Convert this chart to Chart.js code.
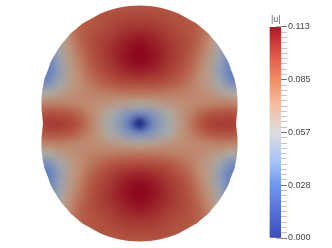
<!DOCTYPE html>
<html>
<head>
<meta charset="utf-8">
<style>
  html, body { margin: 0; padding: 0; background: #fff; }
  canvas { display: block; }
</style>
<script src="https://cdn.jsdelivr.net/npm/chart.js@4"></script>
</head>
<body>
<canvas id="chart" width="332" height="248"></canvas>
<script>
// field values, in thousandths of |u|
const gridX = [-100,-90,-80,-70,-60,-50,-40,-30,-20,-10,0,10,20,30,40,50,60,70,80,90,100];
const gridY = [-120,-110,-100,-90,-80,-70,-60,-50,-40,-30,-20,-10,0,10,20,30,40,50,60,70,80,90,100,110,120];
const fieldRows = [
  [40,50,62,72,80,82,83,84,85,86,86,86,85,84,83,82,80,72,62,50,40],
  [40,50,62,74,82,85,87,88,89,90,90,90,89,88,87,85,82,74,62,50,40],
  [38,48,62,75,83,86,88,90,93,95,95,95,93,90,88,86,83,75,62,48,38],
  [35,45,58,73,82,87,90,93,98,101,103,101,98,93,90,87,82,73,58,45,35],
  [30,40,54,70,80,88,93,97,102,107,110,107,102,97,93,88,80,70,54,40,30],
  [27,33,50,67,77,86,92,98,105,110,113,110,105,98,92,86,77,67,50,33,27],
  [26,31,46,64,74,84,91,96,103,108,111,108,103,96,91,84,74,64,46,31,26],
  [26,30,44,63,71,80,87,92,97,100,102,100,97,92,87,80,71,63,44,30,26],
  [34,38,52,63,70,76,81,85,88,89,90,89,88,85,81,76,70,63,52,38,34],
  [55,58,63,68,71,73,74,75,76,77,77,77,76,75,74,73,71,68,63,58,55],
  [72,74,74,73,72,71,69,67,64,62,60,62,64,67,69,71,72,73,74,74,72],
  [86,88,88,86,80,73,66,57,47,38,35,38,47,57,66,73,80,86,88,88,86],
  [93,95,95,92,86,75,64,54,42,25,0,25,42,54,64,75,86,92,95,95,93],
  [86,88,88,86,80,73,66,57,47,38,35,38,47,57,66,73,80,86,88,88,86],
  [72,74,74,73,72,71,69,67,64,62,60,62,64,67,69,71,72,73,74,74,72],
  [55,58,63,68,71,73,74,75,76,77,77,77,76,75,74,73,71,68,63,58,55],
  [34,38,52,63,70,76,81,85,88,89,90,89,88,85,81,76,70,63,52,38,34],
  [26,30,44,63,71,80,87,92,97,100,102,100,97,92,87,80,71,63,44,30,26],
  [26,31,46,64,74,84,91,96,103,108,111,108,103,96,91,84,74,64,46,31,26],
  [27,33,50,67,77,86,92,98,105,110,113,110,105,98,92,86,77,67,50,33,27],
  [30,40,54,70,80,88,93,97,102,107,110,107,102,97,93,88,80,70,54,40,30],
  [35,45,58,73,82,87,90,93,98,101,103,101,98,93,90,87,82,73,58,45,35],
  [38,48,62,75,83,86,88,90,93,95,95,95,93,90,88,86,83,75,62,48,38],
  [40,50,62,74,82,85,87,88,89,90,90,90,89,88,87,85,82,74,62,50,40],
  [40,50,62,72,80,82,83,84,85,86,86,86,85,84,83,82,80,72,62,50,40]
];

// outline of the domain: half width at each height
const outlineY = [-118,-117.5,-117,-116,-115,-113,-110,-105,-100,-95,-90,-85,-80,-75,-70,-65,-60,-55,-50,-45,-40,-35,-30,-25,-20,-15,-10,-5,0,5,10,15,20,25,30,35,40,45,50,55,60,65,70,75,80,85,90,95,100,105,110,113,115,116,117,117.5,118];
const outlineHalf = [0,10,14,20,24,31,39,48,57,63,69,73,77.5,81,84,87,89.5,91,93,95,96,97,97.5,98,98,98,97.5,97,96.5,97,97.5,98,98,98,97.5,97,96,95,93,91,89.5,87,84,81,77.5,73,69,63,57,48,39,31,24,20,14,10,0];

// colour bar
const barMax = 0.113;
const barLabels = ["0.000", "0.028", "0.057", "0.085", "0.113"];
const majorTicks = [0, 0.02825, 0.0565, 0.08475, 0.113];
const barStops = [0, 0.25, 0.36, 0.5, 0.63, 0.75, 0.88, 1];
const barColors = ["#3b4cc0", "#6e96f0", "#a5c3fa", "#dddddd", "#f5bea0", "#f58c64", "#dc5041", "#b91428"];

// the mesh is shaded, so its colours are darker than the bar's
const meshStops = [0, 15, 30, 45, 57, 70, 85, 100, 113];
const meshColors = [[20,30,120],[70,95,175],[105,130,190],[148,158,178],[172,170,162],[192,142,116],[180,90,68],[160,45,45],[140,5,30]];

function meshColor(v) {
  let i = 0;
  while (i < meshStops.length - 2 && v > meshStops[i + 1]) i++;
  const t = (v - meshStops[i]) / (meshStops[i + 1] - meshStops[i]);
  return meshColors[i].map((c, k) => Math.round(c + (meshColors[i + 1][k] - c) * t));
}

const meshPoints = [];
fieldRows.forEach((row, r) => row.forEach((v, c) => meshPoints.push({ x: gridX[c], y: gridY[r], v })));

const minorTicks = [];
for (let i = 0; i <= 40; i++) minorTicks.push(barMax * i / 40);

// paints the mesh cells with smoothing, clipped to the outline
const meshPlugin = {
  id: "mesh",
  beforeDatasetsDraw(chart) {
    const { ctx, scales } = chart;
    const off = document.createElement("canvas");
    off.width = gridX.length;
    off.height = gridY.length;
    const octx = off.getContext("2d");
    const img = octx.createImageData(off.width, off.height);
    chart.data.datasets[0].data.forEach((p, i) => {
      const [r, g, b] = meshColor(p.v);
      img.data.set([r, g, b, 255], i * 4);
    });
    octx.putImageData(img, 0, 0);

    const half = (gridX[1] - gridX[0]) / 2;
    const left = scales.x.getPixelForValue(gridX[0] - half);
    const right = scales.x.getPixelForValue(gridX[gridX.length - 1] + half);
    const top = scales.y.getPixelForValue(gridY[0] - half);
    const bottom = scales.y.getPixelForValue(gridY[gridY.length - 1] + half);

    ctx.save();
    ctx.beginPath();
    outlineY.forEach((y, i) => ctx.lineTo(scales.x.getPixelForValue(outlineHalf[i]), scales.y.getPixelForValue(y)));
    for (let i = outlineY.length - 1; i >= 0; i--) {
      ctx.lineTo(scales.x.getPixelForValue(-outlineHalf[i]), scales.y.getPixelForValue(outlineY[i]));
    }
    ctx.closePath();
    ctx.clip();
    ctx.imageSmoothingEnabled = true;
    ctx.imageSmoothingQuality = "high";
    ctx.drawImage(off, left, top, right - left, bottom - top);
    ctx.restore();
  },
  afterDraw(chart) {
    const { ctx } = chart;
    ctx.save();
    ctx.font = "9px 'Liberation Sans'";
    ctx.fillStyle = "#666";
    ctx.textBaseline = "alphabetic";
    ctx.fillText("|u|", 271, 22);
    ctx.restore();
  }
};

function barGradient(context) {
  const { chart } = context;
  const cb = chart.scales.cb;
  const y0 = cb ? cb.getPixelForValue(0) : NaN;
  const y1 = cb ? cb.getPixelForValue(barMax) : NaN;
  if (!Number.isFinite(y0) || !Number.isFinite(y1)) return barColors[0];
  const g = chart.ctx.createLinearGradient(0, y0, 0, y1);
  barStops.forEach((s, i) => g.addColorStop(s, barColors[i]));
  return g;
}

// all datasets share one x axis, otherwise the bar gets split into groups
const barCenterX = 136;
const majorTickX = 139;

new Chart(document.getElementById("chart"), {
  data: {
    datasets: [
      { type: "scatter", data: meshPoints, pointRadius: 0, xAxisID: "x", yAxisID: "y" },
      {
        type: "bar",
        data: [{ x: barCenterX, y: [0, barMax] }],
        barThickness: 11,
        backgroundColor: barGradient,
        borderWidth: 0,
        xAxisID: "x",
        yAxisID: "cb"
      },
      {
        type: "scatter",
        data: majorTicks.map(y => ({ x: majorTickX, y })),
        pointStyle: "line",
        pointRadius: 2.5,
        borderColor: "#666",
        borderWidth: 1,
        clip: false,
        xAxisID: "x",
        yAxisID: "cb"
      }
    ]
  },
  plugins: [meshPlugin],
  options: {
    responsive: false,
    animation: false,
    layout: { autoPadding: false, padding: { top: 27, bottom: 10, left: 0, right: 0 } },
    plugins: { legend: { display: false }, tooltip: { enabled: false } },
    scales: {
      x: { type: "linear", display: false, offset: false, min: -139.5, max: 141.5 },
      y: { type: "linear", display: false, reverse: true, min: -96.5, max: 114.5 },
      cb: {
        type: "linear",
        position: "right",
        min: 0,
        max: barMax,
        border: { display: false },
        grid: {
          drawOnChartArea: false,
          tickLength: 6,
          tickColor: c => (c.index % 10 === 0 ? "#777" : "#c4c4c4")
        },
        ticks: {
          autoSkip: false,
          padding: 1,
          color: "#444",
          font: { family: "'Liberation Sans'", size: 9 },
          callback: (value, index) => (index % 10 === 0 ? barLabels[index / 10] : "")
        },
        afterBuildTicks: scale => { scale.ticks = minorTicks.map(value => ({ value })); },
        afterFit: scale => { scale.width = 51; }
      }
    }
  }
});
</script>
</body>
</html>
